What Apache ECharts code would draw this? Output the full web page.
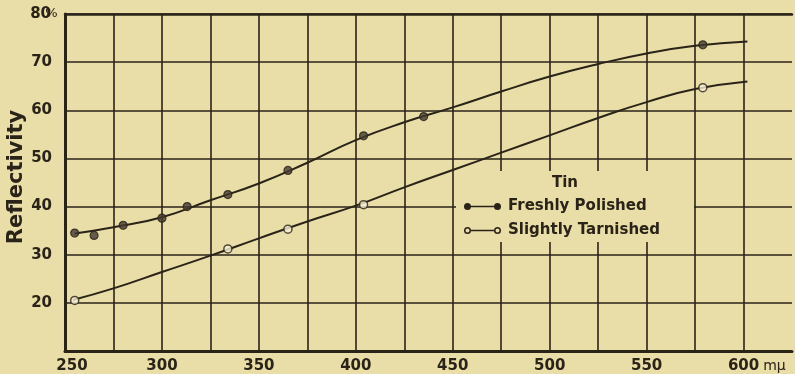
<!DOCTYPE html>
<html>
<head>
<meta charset="utf-8">
<script src="https://cdn.jsdelivr.net/npm/echarts@6/dist/echarts.min.js"></script>
<style>
html,body{margin:0;padding:0;background:#e9dda8;overflow:hidden;}
#c{width:795px;height:374px;}
</style>
</head>
<body>
<div id="c"></div>
<script>
// Tick labels
var xTicks = [250, 300, 350, 400, 450, 500, 550, 600];
var yTicks = [20, 30, 40, 50, 60, 70, 80];

// Smooth curves
var polishedCurveX = [255, 275, 300, 325, 350, 375, 400, 425, 450, 475, 500, 525, 550, 575, 602];
var polishedCurveY = [34.4, 35.7, 37.8, 41.3, 44.8, 49.1, 53.8, 57.5, 60.6, 63.9, 67.0, 69.6, 71.8, 73.4, 74.3];
var tarnishedCurveX = [254, 275, 300, 325, 350, 375, 400, 425, 450, 475, 500, 525, 550, 575, 602];
var tarnishedCurveY = [20.6, 23.0, 26.4, 29.8, 33.4, 36.9, 40.2, 44.0, 47.6, 51.2, 54.8, 58.4, 61.7, 64.4, 66.0];

// Measured points
var polishedX = [255, 265, 280, 300, 313, 334, 365, 404, 435, 579];
var polishedY = [34.5, 34.0, 36.1, 37.6, 40.0, 42.5, 47.5, 54.7, 58.7, 73.6];
var tarnishedX = [255, 334, 365, 404, 579];
var tarnishedY = [20.5, 31.2, 35.3, 40.4, 64.7];

var seriesNames = ['Freshly Polished', 'Slightly Tarnished'];
var legendTitle = 'Tin';
var yName = 'Reflectivity';
var xUnit = 'mμ';

function pairs(xs, ys) { return xs.map(function (x, i) { return [x, ys[i]]; }); }

var INK = '#2a2318';
var BG = '#e9dda8';
var FONT = 'DejaVu Sans';

var iconFilled = 'path://M0.5,4 A3.5,3.5 0 1 1 7.5,4 A3.5,3.5 0 1 1 0.5,4 Z M30.5,4 A3.5,3.5 0 1 1 37.5,4 A3.5,3.5 0 1 1 30.5,4 Z M7,3.3 L31,3.3 L31,4.7 L7,4.7 Z';
var iconOpen = 'path://M0.5,4 A3.5,3.5 0 1 1 7.5,4 A3.5,3.5 0 1 1 0.5,4 Z M2,4 A2,2 0 1 0 6,4 A2,2 0 1 0 2,4 Z M30.5,4 A3.5,3.5 0 1 1 37.5,4 A3.5,3.5 0 1 1 30.5,4 Z M32,4 A2,2 0 1 0 36,4 A2,2 0 1 0 32,4 Z M7,3.3 L31,3.3 L31,4.7 L7,4.7 Z';

var chart = echarts.init(document.getElementById('c'), null, {renderer: 'canvas', width: 795, height: 374});
chart.setOption({
  backgroundColor: BG,
  animation: false,
  grid: {left: 65, right: 0, top: 14, bottom: 23, containLabel: false},
  xAxis: [{
    type: 'value', min: 250, max: 625, interval: 25,
    axisLine: {show: true, lineStyle: {color: INK, width: 3}},
    axisTick: {show: false},
    splitLine: {show: true, showMaxLine: false, lineStyle: {color: INK, width: 1.6}},
    axisLabel: {
      color: INK, fontFamily: FONT, fontWeight: 'bold', fontSize: 15, margin: 8,
      formatter: function (v) {
        if (xTicks.indexOf(v) < 0) return '';
        if (v === 250) return '{s|}' + v;
        if (v === 600) return '{s2|}' + v + '{u| ' + xUnit + '}';
        return String(v);
      },
      rich: {
        s: {width: 14},
        s2: {width: 26},
        u: {fontFamily: FONT, fontWeight: 'normal', fontSize: 14, color: INK, width: 26}
      }
    }
  }, {
    type: 'value', position: 'top', min: 250, max: 625,
    axisLine: {show: true, lineStyle: {color: INK, width: 2.5}},
    axisTick: {show: false}, axisLabel: {show: false}, splitLine: {show: false}
  }],
  yAxis: {
    type: 'value', min: 10, max: 80, interval: 10,
    axisLine: {show: true, lineStyle: {color: INK, width: 3}},
    axisTick: {show: false},
    splitLine: {show: true, lineStyle: {color: INK, width: 1.6}},
    axisLabel: {
      color: INK, fontFamily: FONT, fontWeight: 'bold', fontSize: 15, margin: 13,
      formatter: function (v) {
        if (yTicks.indexOf(v) < 0) return '';
        if (v === 80) return '{n|' + v + '}{p|%}';
        return String(v);
      },
      rich: {
        n: {fontFamily: FONT, fontWeight: 'bold', fontSize: 15, color: INK},
        p: {fontFamily: FONT, fontWeight: 'normal', fontSize: 13, color: INK, width: 1, align: 'left'}
      }
    }
  },
  legend: {
    orient: 'vertical', left: 459, top: 193,
    itemWidth: 37, itemHeight: 7, itemGap: 7,
    itemStyle: {borderWidth: 0},
    textStyle: {color: INK, fontFamily: FONT, fontWeight: 'bold', fontSize: 15, lineHeight: 17, padding: [0, 0, 0, 2]},
    data: [
      {name: seriesNames[0], icon: iconFilled, itemStyle: {color: INK}},
      {name: seriesNames[1], icon: iconOpen, itemStyle: {color: INK}}
    ]
  },
  graphic: [
    {type: 'rect', z: 1, shape: {x: 456, y: 171, width: 238, height: 71}, style: {fill: BG}},
    {type: 'text', z: 5, x: 565, y: 183, style: {text: legendTitle, fill: INK, font: 'bold 15px "DejaVu Sans"', textAlign: 'center', textVerticalAlign: 'middle'}},
    {type: 'text', z: 5, x: 16.5, y: 177, rotation: Math.PI / 2, style: {text: yName, fill: INK, font: 'bold 21px "DejaVu Sans"', textAlign: 'center', textVerticalAlign: 'middle'}}
  ],
  series: [
    {name: seriesNames[0], type: 'line', smooth: 0.5, showSymbol: false, data: pairs(polishedCurveX, polishedCurveY),
     lineStyle: {color: INK, width: 2}, itemStyle: {color: INK}, z: 3},
    {name: seriesNames[1], type: 'line', smooth: 0.5, showSymbol: false, data: pairs(tarnishedCurveX, tarnishedCurveY),
     lineStyle: {color: INK, width: 2}, itemStyle: {color: INK}, z: 3},
    {name: seriesNames[0], type: 'scatter', symbol: 'circle', symbolSize: 8, data: pairs(polishedX, polishedY),
     itemStyle: {color: '#433b30', borderColor: INK, borderWidth: 1.2}, z: 4},
    {name: seriesNames[1], type: 'scatter', symbol: 'circle', symbolSize: 8, data: pairs(tarnishedX, tarnishedY),
     itemStyle: {color: '#f6f0d6', borderColor: INK, borderWidth: 1.5}, z: 4}
  ]
});
</script>
</body>
</html>
